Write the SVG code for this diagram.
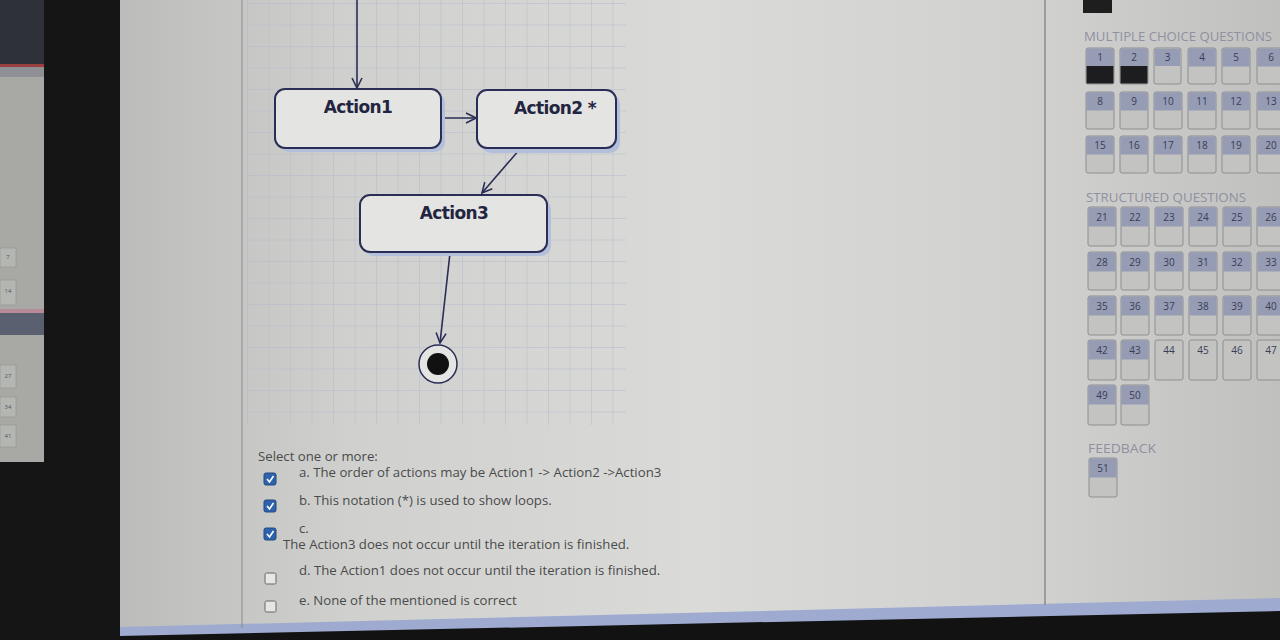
<svg xmlns="http://www.w3.org/2000/svg" width="1280" height="640" viewBox="0 0 1280 640">
<defs>
<linearGradient id="page" x1="0" y1="0" x2="1" y2="0">
<stop offset="0" stop-color="#bcbdbb"/>
<stop offset="0.2" stop-color="#d0d1cf"/>
<stop offset="0.5" stop-color="#dadbd9"/>
<stop offset="0.8" stop-color="#d0d1cf"/>
<stop offset="1" stop-color="#c0c1bf"/>
</linearGradient>
<pattern id="grid" width="21.5" height="21.5" patternUnits="userSpaceOnUse" x="248" y="4">
<path d="M21.5 0 V21.5 M0 21.5 H21.5" fill="none" stroke="#b3bac8" stroke-width="1"/>
</pattern>
<marker id="arr" viewBox="0 0 12 12" refX="11" refY="6" markerWidth="12" markerHeight="12" markerUnits="userSpaceOnUse" orient="auto">
<path d="M1 1 L11 6 L1 11" fill="none" stroke="#2a2d55" stroke-width="1.6"/>
</marker>
<style>
.node{fill:#e4e4e2;stroke:#2a2d55;stroke-width:2}
.shadow{fill:#b4bfdc}
.lbl{font-family:"DejaVu Sans","Liberation Sans",sans-serif;font-weight:bold;font-size:17px;fill:#23243f;text-anchor:middle;letter-spacing:-0.6px}
.con{fill:none;stroke:#2a2d55;stroke-width:1.6}
.q{font-family:"Open Sans","Noto Sans",sans-serif;font-size:13.2px;fill:#4a4a4a}
.chk{fill:#2f62ad;stroke:#23487f;stroke-width:1}
.unchk{fill:#e6e6e4;stroke:#666;stroke-width:1}
.hd{font-family:"Open Sans","Noto Sans",sans-serif;font-size:12px;fill:#8f90a0}
.btn{fill:#c3c4c2;stroke:#8d8e90;stroke-width:1}
.btop{fill:#959cb4}
.bn{font-family:"Open Sans","Noto Sans",sans-serif;font-size:10px;fill:#3a3d55;text-anchor:middle}
</style>
</defs>

<!-- background / photo frame -->
<rect x="0" y="0" width="1280" height="640" fill="#151515"/>
<rect x="120" y="0" width="1160" height="632" fill="url(#page)"/>
<path d="M120 627 L1280 598 L1280 612 L120 638 Z" fill="#9eaad0"/>
<path d="M120 636 L1280 611 L1280 640 L120 640 Z" fill="#121212"/>
<line x1="242" y1="0" x2="242" y2="628" stroke="#8a8a8a" stroke-width="1"/>
<line x1="1045" y1="0" x2="1045" y2="605" stroke="#8a8a8a" stroke-width="1.5"/>

<!-- small side screen -->
<g id="side-screen">
<rect x="0" y="0" width="44" height="462" fill="#a8a9a5"/>
<rect x="0" y="0" width="44" height="64" fill="#2e3139"/>
<rect x="0" y="64" width="44" height="3" fill="#9b4040"/>
<rect x="0" y="67" width="44" height="10" fill="#8e9096"/>
<rect x="0" y="248" width="16" height="19" fill="#b4b6b2" stroke="#8a8a8a" stroke-width="0.5"/>
<rect x="0" y="280" width="16" height="25" fill="#b4b6b2" stroke="#8a8a8a" stroke-width="0.5"/>
<rect x="0" y="309" width="44" height="4" fill="#b88a98"/>
<rect x="0" y="313" width="44" height="22" fill="#5a6070"/>
<rect x="0" y="365" width="16" height="23" fill="#b4b6b2" stroke="#8a8a8a" stroke-width="0.5"/>
<rect x="0" y="397" width="16" height="20" fill="#b4b6b2" stroke="#8a8a8a" stroke-width="0.5"/>
<rect x="0" y="425" width="16" height="22" fill="#b4b6b2" stroke="#8a8a8a" stroke-width="0.5"/>
<text x="8" y="259" font-family="Open Sans,sans-serif" font-size="6" fill="#556" text-anchor="middle">7</text>
<text x="8" y="293" font-family="Open Sans,sans-serif" font-size="6" fill="#556" text-anchor="middle">14</text>
<text x="8" y="378" font-family="Open Sans,sans-serif" font-size="6" fill="#556" text-anchor="middle">27</text>
<text x="8" y="409" font-family="Open Sans,sans-serif" font-size="6" fill="#556" text-anchor="middle">34</text>
<text x="8" y="438" font-family="Open Sans,sans-serif" font-size="6" fill="#556" text-anchor="middle">41</text>
</g>

<!-- diagram grid -->
<rect x="246" y="0" width="380" height="425" fill="url(#grid)"/>

<!-- connectors -->
<g id="connectors">
<line class="con" x1="357" y1="0" x2="357" y2="88" marker-end="url(#arr)"/>
<line class="con" x1="442" y1="118" x2="476" y2="118" marker-end="url(#arr)"/>
<line class="con" x1="520" y1="149" x2="482" y2="193" marker-end="url(#arr)"/>
<line class="con" x1="450" y1="253" x2="440" y2="343" marker-end="url(#arr)"/>
</g>

<g id="action1">
<rect class="shadow" x="279" y="93" width="166" height="59" rx="10"/>
<rect class="node" x="275" y="89" width="166" height="59" rx="10"/>
<text class="lbl" x="358" y="113">Action1</text>
</g>
<g id="action2">
<rect class="shadow" x="481" y="94" width="139" height="59" rx="10"/>
<rect class="node" x="477" y="90" width="139" height="58" rx="10"/>
<text class="lbl" x="555" y="114">Action2 *</text>
</g>
<g id="action3">
<rect class="shadow" x="364" y="199" width="187" height="57" rx="10"/>
<rect class="node" x="360" y="195" width="187" height="57" rx="10"/>
<text class="lbl" x="454" y="219">Action3</text>
</g>
<g id="final">
<circle cx="438" cy="364" r="19" fill="#e4e4e2" stroke="#2a2d55" stroke-width="1.5"/>
<circle cx="438" cy="364" r="11" fill="#111"/>
</g>

<!-- question -->
<g id="question">
<text class="q" x="258" y="461" font-size="13.8">Select one or more:</text>
<rect class="chk" x="264" y="473" width="12" height="12" rx="2"/>
<path d="M267 479 L269.5 482 L273.5 476" fill="none" stroke="#fff" stroke-width="1.6"/>
<text class="q" x="299" y="477">a. The order of actions may be Action1 -&gt; Action2 -&gt;Action3</text>
<rect class="chk" x="264" y="500" width="12" height="12" rx="2"/>
<path d="M267 506 L269.5 509 L273.5 503" fill="none" stroke="#fff" stroke-width="1.6"/>
<text class="q" x="299" y="505">b. This notation (*) is used to show loops.</text>
<rect class="chk" x="264" y="528" width="12" height="12" rx="2"/>
<path d="M267 534 L269.5 537 L273.5 531" fill="none" stroke="#fff" stroke-width="1.6"/>
<text class="q" x="299" y="533" font-size="10">c.</text>
<text class="q" x="283" y="549">The Action3 does not occur until the iteration is finished.</text>
<rect class="unchk" x="265" y="573" width="11" height="11" rx="1.5"/>
<text class="q" x="299" y="575">d. The Action1 does not occur until the iteration is finished.</text>
<rect class="unchk" x="265" y="601" width="11" height="11" rx="1.5"/>
<text class="q" x="299" y="605">e. None of the mentioned is correct</text>
</g>

<!-- navigation panel -->
<g id="nav">
<rect x="1083" y="0" width="29" height="13" fill="#1e1e1e"/>
<text class="hd" x="1084" y="41" textLength="188" lengthAdjust="spacingAndGlyphs">MULTIPLE CHOICE QUESTIONS</text>

<g id="mcq">
<g transform="translate(1086,48)"><rect class="btn" width="28" height="36" rx="2"/><rect class="btop" x="0.5" y="0.5" width="27" height="18"/><rect x="0.5" y="18" width="27" height="17.5" fill="#1d1d1f"/><text class="bn" x="14" y="13">1</text></g>
<g transform="translate(1120,48)"><rect class="btn" width="28" height="36" rx="2"/><rect class="btop" x="0.5" y="0.5" width="27" height="18"/><rect x="0.5" y="18" width="27" height="17.5" fill="#1d1d1f"/><text class="bn" x="14" y="13">2</text></g>
<g transform="translate(1154,48)"><rect class="btn" width="27" height="36" rx="2" stroke="#222" stroke-width="2"/><rect class="btop" x="1" y="1" width="25" height="17"/><text class="bn" x="13.5" y="13">3</text></g>
<g transform="translate(1188,48)"><rect class="btn" width="28" height="36" rx="2"/><rect class="btop" x="0.5" y="0.5" width="27" height="18"/><text class="bn" x="14" y="13">4</text></g>
<g transform="translate(1222,48)"><rect class="btn" width="28" height="36" rx="2"/><rect class="btop" x="0.5" y="0.5" width="27" height="18"/><text class="bn" x="14" y="13">5</text></g>
<g transform="translate(1257,48)"><rect class="btn" width="28" height="36" rx="2"/><rect class="btop" x="0.5" y="0.5" width="27" height="18"/><text class="bn" x="14" y="13">6</text></g>

<g transform="translate(1086,92)"><rect class="btn" width="28" height="37" rx="2"/><rect class="btop" x="0.5" y="0.5" width="27" height="18"/><text class="bn" x="14" y="13">8</text></g>
<g transform="translate(1120,92)"><rect class="btn" width="28" height="37" rx="2"/><rect class="btop" x="0.5" y="0.5" width="27" height="18"/><text class="bn" x="14" y="13">9</text></g>
<g transform="translate(1154,92)"><rect class="btn" width="28" height="37" rx="2"/><rect class="btop" x="0.5" y="0.5" width="27" height="18"/><text class="bn" x="14" y="13">10</text></g>
<g transform="translate(1188,92)"><rect class="btn" width="28" height="37" rx="2"/><rect class="btop" x="0.5" y="0.5" width="27" height="18"/><text class="bn" x="14" y="13">11</text></g>
<g transform="translate(1222,92)"><rect class="btn" width="28" height="37" rx="2"/><rect class="btop" x="0.5" y="0.5" width="27" height="18"/><text class="bn" x="14" y="13">12</text></g>
<g transform="translate(1257,92)"><rect class="btn" width="28" height="37" rx="2"/><rect class="btop" x="0.5" y="0.5" width="27" height="18"/><text class="bn" x="14" y="13">13</text></g>

<g transform="translate(1086,136)"><rect class="btn" width="28" height="37" rx="2"/><rect class="btop" x="0.5" y="0.5" width="27" height="18"/><text class="bn" x="14" y="13">15</text></g>
<g transform="translate(1120,136)"><rect class="btn" width="28" height="37" rx="2"/><rect class="btop" x="0.5" y="0.5" width="27" height="18"/><text class="bn" x="14" y="13">16</text></g>
<g transform="translate(1154,136)"><rect class="btn" width="28" height="37" rx="2"/><rect class="btop" x="0.5" y="0.5" width="27" height="18"/><text class="bn" x="14" y="13">17</text></g>
<g transform="translate(1188,136)"><rect class="btn" width="28" height="37" rx="2"/><rect class="btop" x="0.5" y="0.5" width="27" height="18"/><text class="bn" x="14" y="13">18</text></g>
<g transform="translate(1222,136)"><rect class="btn" width="28" height="37" rx="2"/><rect class="btop" x="0.5" y="0.5" width="27" height="18"/><text class="bn" x="14" y="13">19</text></g>
<g transform="translate(1257,136)"><rect class="btn" width="28" height="37" rx="2"/><rect class="btop" x="0.5" y="0.5" width="27" height="18"/><text class="bn" x="14" y="13">20</text></g>
</g>

<text class="hd" x="1086" y="202" textLength="160" lengthAdjust="spacingAndGlyphs">STRUCTURED QUESTIONS</text>
<g id="sq">
<g transform="translate(1088,207)"><rect class="btn" width="28" height="39" rx="2"/><rect class="btop" x="0.5" y="0.5" width="27" height="19"/><text class="bn" x="14" y="14">21</text></g>
<g transform="translate(1121,207)"><rect class="btn" width="28" height="39" rx="2"/><rect class="btop" x="0.5" y="0.5" width="27" height="19"/><text class="bn" x="14" y="14">22</text></g>
<g transform="translate(1155,207)"><rect class="btn" width="28" height="39" rx="2"/><rect class="btop" x="0.5" y="0.5" width="27" height="19"/><text class="bn" x="14" y="14">23</text></g>
<g transform="translate(1189,207)"><rect class="btn" width="28" height="39" rx="2"/><rect class="btop" x="0.5" y="0.5" width="27" height="19"/><text class="bn" x="14" y="14">24</text></g>
<g transform="translate(1223,207)"><rect class="btn" width="28" height="39" rx="2"/><rect class="btop" x="0.5" y="0.5" width="27" height="19"/><text class="bn" x="14" y="14">25</text></g>
<g transform="translate(1257,207)"><rect class="btn" width="28" height="39" rx="2"/><rect class="btop" x="0.5" y="0.5" width="27" height="19"/><text class="bn" x="14" y="14">26</text></g>

<g transform="translate(1088,252)"><rect class="btn" width="28" height="38" rx="2"/><rect class="btop" x="0.5" y="0.5" width="27" height="19"/><text class="bn" x="14" y="14">28</text></g>
<g transform="translate(1121,252)"><rect class="btn" width="28" height="38" rx="2"/><rect class="btop" x="0.5" y="0.5" width="27" height="19"/><text class="bn" x="14" y="14">29</text></g>
<g transform="translate(1155,252)"><rect class="btn" width="28" height="38" rx="2"/><rect class="btop" x="0.5" y="0.5" width="27" height="19"/><text class="bn" x="14" y="14">30</text></g>
<g transform="translate(1189,252)"><rect class="btn" width="28" height="38" rx="2"/><rect class="btop" x="0.5" y="0.5" width="27" height="19"/><text class="bn" x="14" y="14">31</text></g>
<g transform="translate(1223,252)"><rect class="btn" width="28" height="38" rx="2"/><rect class="btop" x="0.5" y="0.5" width="27" height="19"/><text class="bn" x="14" y="14">32</text></g>
<g transform="translate(1257,252)"><rect class="btn" width="28" height="38" rx="2"/><rect class="btop" x="0.5" y="0.5" width="27" height="19"/><text class="bn" x="14" y="14">33</text></g>

<g transform="translate(1088,296)"><rect class="btn" width="28" height="39" rx="2"/><rect class="btop" x="0.5" y="0.5" width="27" height="19"/><text class="bn" x="14" y="14">35</text></g>
<g transform="translate(1121,296)"><rect class="btn" width="28" height="39" rx="2"/><rect class="btop" x="0.5" y="0.5" width="27" height="19"/><text class="bn" x="14" y="14">36</text></g>
<g transform="translate(1155,296)"><rect class="btn" width="28" height="39" rx="2"/><rect class="btop" x="0.5" y="0.5" width="27" height="19"/><text class="bn" x="14" y="14">37</text></g>
<g transform="translate(1189,296)"><rect class="btn" width="28" height="39" rx="2"/><rect class="btop" x="0.5" y="0.5" width="27" height="19"/><text class="bn" x="14" y="14">38</text></g>
<g transform="translate(1223,296)"><rect class="btn" width="28" height="39" rx="2"/><rect class="btop" x="0.5" y="0.5" width="27" height="19"/><text class="bn" x="14" y="14">39</text></g>
<g transform="translate(1257,296)"><rect class="btn" width="28" height="39" rx="2"/><rect class="btop" x="0.5" y="0.5" width="27" height="19"/><text class="bn" x="14" y="14">40</text></g>

<g transform="translate(1088,340)"><rect class="btn" width="28" height="40" rx="2"/><rect class="btop" x="0.5" y="0.5" width="27" height="19"/><text class="bn" x="14" y="14">42</text></g>
<g transform="translate(1121,340)"><rect class="btn" width="28" height="40" rx="2"/><rect class="btop" x="0.5" y="0.5" width="27" height="19"/><text class="bn" x="14" y="14">43</text></g>
<g transform="translate(1155,340)"><rect class="btn" width="28" height="40" rx="2"/><text class="bn" x="14" y="14">44</text></g>
<g transform="translate(1189,340)"><rect class="btn" width="28" height="40" rx="2"/><text class="bn" x="14" y="14">45</text></g>
<g transform="translate(1223,340)"><rect class="btn" width="28" height="40" rx="2"/><text class="bn" x="14" y="14">46</text></g>
<g transform="translate(1257,340)"><rect class="btn" width="28" height="40" rx="2"/><text class="bn" x="14" y="14">47</text></g>

<g transform="translate(1088,385)"><rect class="btn" width="28" height="40" rx="2"/><rect class="btop" x="0.5" y="0.5" width="27" height="19"/><text class="bn" x="14" y="14">49</text></g>
<g transform="translate(1121,385)"><rect class="btn" width="28" height="40" rx="2"/><rect class="btop" x="0.5" y="0.5" width="27" height="19"/><text class="bn" x="14" y="14">50</text></g>
</g>

<text class="hd" x="1088" y="453" textLength="68" lengthAdjust="spacingAndGlyphs">FEEDBACK</text>
<g transform="translate(1089,458)"><rect class="btn" width="28" height="39" rx="2"/><rect class="btop" x="0.5" y="0.5" width="27" height="19"/><text class="bn" x="14" y="14">51</text></g>
</g>
</svg>
